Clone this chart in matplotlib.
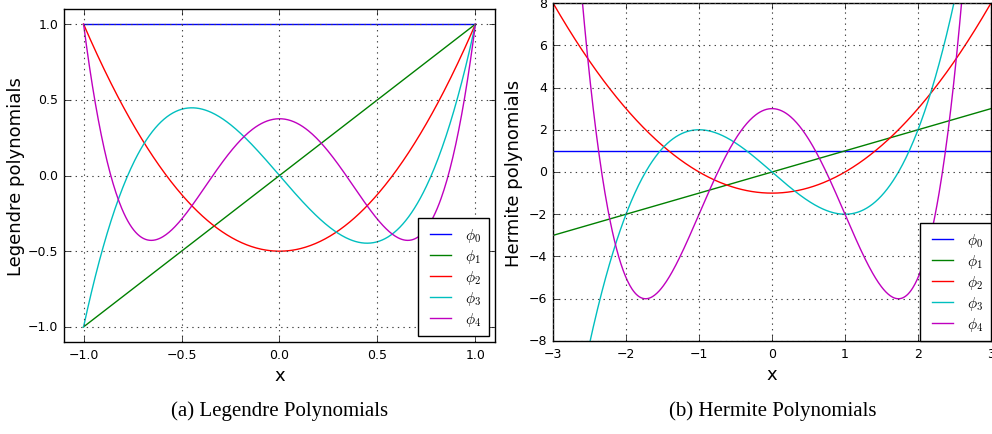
import numpy as np
import matplotlib
matplotlib.use("Agg")
import matplotlib.pyplot as plt
from numpy.polynomial import polynomial as P

# polynomial coefficients, lowest power first
legendre_coefs = [
    [1.0],
    [0.0, 1.0],
    [-0.5, 0.0, 1.5],
    [0.0, -1.5, 0.0, 2.5],
    [0.375, 0.0, -3.75, 0.0, 4.375],
]
hermite_coefs = [
    [1.0],
    [0.0, 1.0],
    [-1.0, 0.0, 1.0],
    [0.0, -3.0, 0.0, 1.0],
    [3.0, 0.0, -6.0, 0.0, 1.0],
]
labels = [r"$\phi_0$", r"$\phi_1$", r"$\phi_2$", r"$\phi_3$", r"$\phi_4$"]
colors = ["b", "g", "r", "c", "m"]

plt.style.use("classic")
plt.rcParams["font.family"] = ["DejaVu Sans"]
plt.rcParams["mathtext.fontset"] = "cm"

fig = plt.figure(figsize=(9.92, 4.35), dpi=100, facecolor="white")
ax1 = fig.add_axes([0.0645, 0.2115, 0.4345, 0.7655])
ax2 = fig.add_axes([0.5575, 0.2138, 0.4415, 0.777])

x1 = np.linspace(-1, 1, 400)
for c, col, lab in zip(legendre_coefs, colors, labels):
    ax1.plot(x1, P.polyval(x1, c), color=col, lw=1, label=lab)
ax1.set_xlim(-1.1, 1.1)
ax1.set_ylim(-1.1, 1.1)
ax1.set_xticks([-1.0, -0.5, 0.0, 0.5, 1.0])
ax1.set_yticks([-1.0, -0.5, 0.0, 0.5, 1.0])
ax1.set_ylabel("Legendre polynomials", fontsize=13, labelpad=2)

x2 = np.linspace(-3, 3, 600)
for c, col, lab in zip(hermite_coefs, colors, labels):
    ax2.plot(x2, P.polyval(x2, c), color=col, lw=1, label=lab)
ax2.set_xlim(-3, 3)
ax2.set_ylim(-8, 8)
ax2.set_xticks([-3, -2, -1, 0, 1, 2, 3])
ax2.set_yticks([-8, -6, -4, -2, 0, 2, 4, 6, 8])
ax2.set_ylabel("Hermite polynomials", fontsize=13, labelpad=4)

for ax, pad in ((ax1, 0.4), (ax2, 0.0)):
    ax.grid(True, color="#444444", linestyle=":", linewidth=0.8)
    ax.tick_params(labelsize=9, direction="in", length=4)
    ax.set_xlabel("x", fontsize=13, labelpad=4)
    leg = ax.legend(loc="lower right", fontsize=11, borderaxespad=pad,
                    handlelength=2.0, handletextpad=0.6, labelspacing=0.2,
                    borderpad=0.5, fancybox=False)
    leg.get_frame().set_edgecolor("black")

fig.text(0.282, 0.055, "(a) Legendre Polynomials", ha="center", va="center",
         fontsize=15, family="Liberation Serif")
fig.text(0.779, 0.055, "(b) Hermite Polynomials", ha="center", va="center",
         fontsize=15, family="Liberation Serif")

fig.savefig("out.png", dpi=100, facecolor="white")
